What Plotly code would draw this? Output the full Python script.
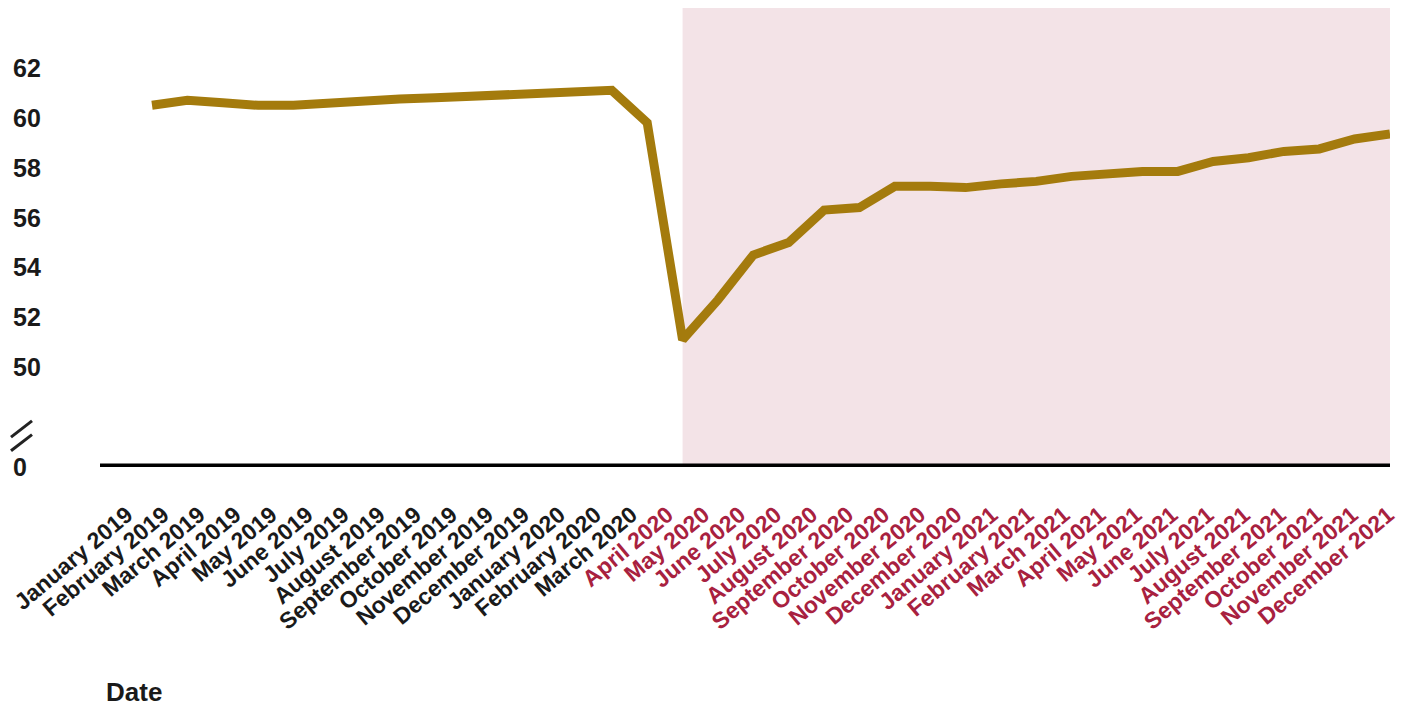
import plotly.graph_objects as go

months = ["January 2019", "February 2019", "March 2019", "April 2019", "May 2019", "June 2019",
          "July 2019", "August 2019", "September 2019", "October 2019", "November 2019", "December 2019",
          "January 2020", "February 2020", "March 2020", "April 2020", "May 2020", "June 2020",
          "July 2020", "August 2020", "September 2020", "October 2020", "November 2020", "December 2020",
          "January 2021", "February 2021", "March 2021", "April 2021", "May 2021", "June 2021",
          "July 2021", "August 2021", "September 2021", "October 2021", "November 2021", "December 2021"]
values = [60.5, 60.7, 60.6, 60.5, 60.5, 60.6, 60.65, 60.75, 60.8, 60.85, 60.9, 60.95,
          61.0, 61.1, 59.8, 51.1, 52.7, 54.5, 55.0, 56.3, 56.4, 57.25, 57.25, 57.2,
          57.35, 57.45, 57.65, 57.75, 57.85, 57.85, 58.25, 58.4, 58.65, 58.75, 59.15, 59.35]
y_ticks = [46, 50, 52, 54, 56, 58, 60, 62]
y_tick_labels = ["0", "50", "52", "54", "56", "58", "60", "62"]
shade_start = "April 2020"

FONT = "Liberation Sans, Arial, sans-serif"
LINE_COLOR = "#A47B0D"
RED = "#A8213F"
SHADE = "#F3E3E7"

idx = list(range(len(months)))
shade_idx = months.index(shade_start)
ticktext = [
    (f'<span style="color:{RED}">{m}</span>' if i >= shade_idx else m)
    for i, m in enumerate(months)
]

fig = go.Figure()
fig.add_trace(go.Scatter(x=idx, y=values, mode="lines",
                         line=dict(color=LINE_COLOR, width=9), hoverinfo="skip"))
# invisible carrier trace so the label axis is drawn
fig.add_trace(go.Scatter(x=idx, y=values, mode="lines", xaxis="x2",
                         line=dict(color="rgba(0,0,0,0)", width=0), hoverinfo="skip"))

# shaded pandemic period
fig.add_shape(type="rect", xref="x", yref="paper", x0=shade_idx, x1=idx[-1],
              y0=0, y1=1, fillcolor=SHADE, line=dict(width=0), layer="below")
# thick baseline
fig.add_shape(type="line", xref="paper", yref="y", x0=0, x1=1, y0=y_ticks[0], y1=y_ticks[0],
              line=dict(color="black", width=7), layer="above")

# plot area spans x 100..1390, y 8..467
W_PLOT = 1290.0
H_PLOT = 459.0
def px_x(p):
    return (p - 100) / W_PLOT

# y tick labels, left-aligned
for v, t in zip(y_ticks, y_tick_labels):
    fig.add_annotation(x=px_x(11), xref="paper", y=v, yref="y", text=f"<b>{t}</b>",
                       showarrow=False, xanchor="left", yanchor="middle",
                       font=dict(family=FONT, size=25, color="#1a1a1a"))

# axis break marks
brk_mid = 47.5
for dy in (0.0, -0.55):
    fig.add_shape(type="line", xref="paper", yref="y",
                  x0=px_x(11), x1=px_x(32), y0=brk_mid + dy - 0.3, y1=brk_mid + dy + 0.35,
                  line=dict(color="#222222", width=3))

# axis title
fig.add_annotation(x=px_x(104), xref="paper", y=-(692 - 467) / H_PLOT, yref="paper",
                   text="<b>Date</b>", showarrow=False, xanchor="left", yanchor="middle",
                   font=dict(family=FONT, size=26, color="#1a1a1a"))

x_range = [-1.47, idx[-1]]
label_range = [-0.75, 35.05]
fig.update_layout(
    width=1408, height=707,
    margin=dict(l=100, r=18, t=8, b=240),
    paper_bgcolor="white", plot_bgcolor="white",
    showlegend=False,
    font=dict(family=FONT),
    xaxis=dict(range=x_range, showgrid=False, zeroline=False, showline=False,
               showticklabels=False, ticks=""),
    xaxis2=dict(range=label_range, overlaying="x", anchor="y", side="bottom",
                tickmode="array", tickvals=idx, ticktext=ticktext,
                tickangle=-40, showgrid=False, zeroline=False, showline=False,
                ticks="", ticklabelstandoff=29,
                tickfont=dict(family=FONT, size=23, color="#1a1a1a", weight="bold")),
    yaxis=dict(range=[46, 64.4], showgrid=False, zeroline=False, showline=False,
               showticklabels=False, ticks=""),
)

fig.write_html("out.html", config={"displayModeBar": False},
               post_script="document.body.style.margin='0';document.body.style.overflow='hidden';")
